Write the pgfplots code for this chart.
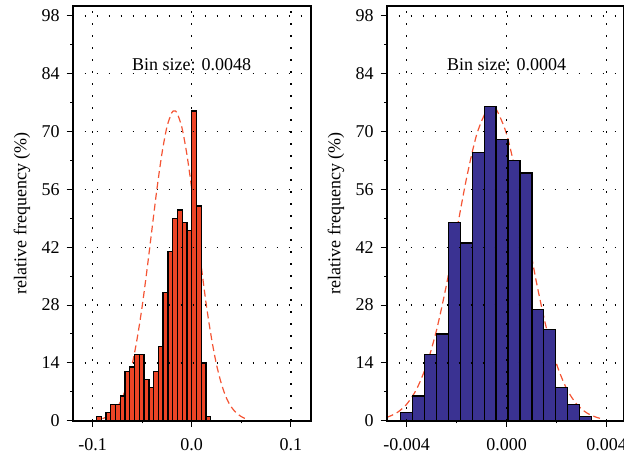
\documentclass[border=0pt]{standalone}
\usepackage{fontspec}
\setmainfont{Liberation Serif}
\usepackage{pgfplots}
\pgfplotsset{compat=1.18}

\definecolor{barred}{RGB}{236,68,38}
\definecolor{barblue}{RGB}{58,50,146}
\definecolor{fitred}{RGB}{244,84,52}

\pgfplotsset{
  histo/.style={
    scale only axis,
    height=207.35pt,
    ymin=0, ymax=100.4,
    axis on top,
    ytick={0,14,...,98},
    minor ytick={7,21,...,91},
    tick pos=left,
    tick align=outside,
    major tick length=3pt,
    minor tick length=1.3pt,
    every tick/.style={black, line width=0.5pt},
    grid=major,
    major grid style={black, line width=0.65pt, dash pattern=on 0.8pt off 5.2pt},
    axis line style={line width=0.8pt},
    /pgf/number format/assume math mode=true,
    scaled x ticks=false,
    xticklabel style={yshift=-2.5pt},
    ylabel={relative frequency (\%)},
    ylabel style={at={([xshift=-25.4pt]axis description cs:0,0.5)}, anchor=center},
  },
  bars/.style={ybar interval, draw=black, line width=0.65pt},
  fit/.style={fitred, line width=0.6pt, dash pattern=on 3.5pt off 2pt, smooth},
}

\begin{document}
\begin{tikzpicture}[font=\fontsize{9}{10.5}\selectfont]

% bin size 0.0048
\begin{axis}[histo,
  at={(36.35pt,-210.35pt)}, anchor=south west,
  width=119pt,
  xmin=-0.12, xmax=0.12,
  xtick={-0.1,0,0.1}, xticklabels={-0.1,0.0,0.1},
  minor xtick={-0.05,0.05},
]
\addplot[fit] coordinates {
  (-0.090,0.5) (-0.085,1.0) (-0.080,1.9) (-0.075,3.3) (-0.070,5.5)
  (-0.065,8.9) (-0.060,13.6) (-0.055,19.9) (-0.050,27.6) (-0.045,36.7)
  (-0.040,46.5) (-0.035,56.2) (-0.030,64.7) (-0.025,71.1) (-0.020,74.6)
  (-0.0175,75.0) (-0.015,74.6) (-0.010,71.1) (-0.005,64.7) (0.000,56.2)
  (0.005,46.5) (0.010,36.7) (0.015,27.6) (0.020,19.9) (0.025,13.6)
  (0.030,8.9) (0.035,5.5) (0.040,3.3) (0.045,1.9) (0.050,1.0) (0.055,0.4)
};
\addplot[bars, fill=barred] coordinates {
  (-0.0960,1) (-0.0912,0) (-0.0864,2) (-0.0816,4) (-0.0768,4)
  (-0.0720,6) (-0.0672,12) (-0.0624,13) (-0.0576,16) (-0.0528,16)
  (-0.0480,10) (-0.0432,8) (-0.0384,12) (-0.0336,18) (-0.0288,31)
  (-0.0240,41) (-0.0192,49) (-0.0144,51) (-0.0096,48) (-0.0048,46)
  (0.0000,75) (0.0048,52) (0.0096,14) (0.0144,1) (0.0192,1)
};
\node[anchor=base, yshift=1.5pt] at (axis cs:0,84) {Bin size: 0.0048};
\end{axis}

% bin size 0.0004
\begin{axis}[histo,
  at={(193.35pt,-210.35pt)}, anchor=south west,
  width=118.75pt,
  xmin=-0.0048, xmax=0.0047,
  xtick={-0.004,0,0.004}, xticklabels={-0.004,0.000,0.004},
  minor xtick={-0.002,0.002},
]
\addplot[fit] coordinates {
  (-0.0048,0.8) (-0.0044,1.9) (-0.0040,4.0) (-0.0036,7.7) (-0.0032,13.6)
  (-0.0028,22.1) (-0.0024,33.2) (-0.0020,46.1) (-0.0016,58.9) (-0.0012,69.3)
  (-0.0008,75.2) (-0.0006,76.0) (-0.0004,75.2) (0.0000,69.3) (0.0004,58.9)
  (0.0008,46.1) (0.0012,33.2) (0.0016,22.1) (0.0020,13.6) (0.0024,7.7)
  (0.0028,4.0) (0.0032,1.9) (0.0036,0.8) (0.0038,0.5)
};
\addplot[bars, fill=barblue] coordinates {
  (-0.004240,2) (-0.003763,6) (-0.003286,16) (-0.002809,21)
  (-0.002332,48) (-0.001855,43) (-0.001378,65) (-0.000901,76)
  (-0.000424,68) (0.000053,63) (0.000530,60) (0.001007,27)
  (0.001484,22) (0.001961,8) (0.002438,4) (0.002915,1)
  (0.003392,1)
};
\node[anchor=base, yshift=1.5pt] at (axis cs:0,84) {Bin size: 0.0004};
\end{axis}

\pgfresetboundingbox
\path[use as bounding box] (0,0) rectangle (312pt,-228.5pt);
\end{tikzpicture}
\end{document}
